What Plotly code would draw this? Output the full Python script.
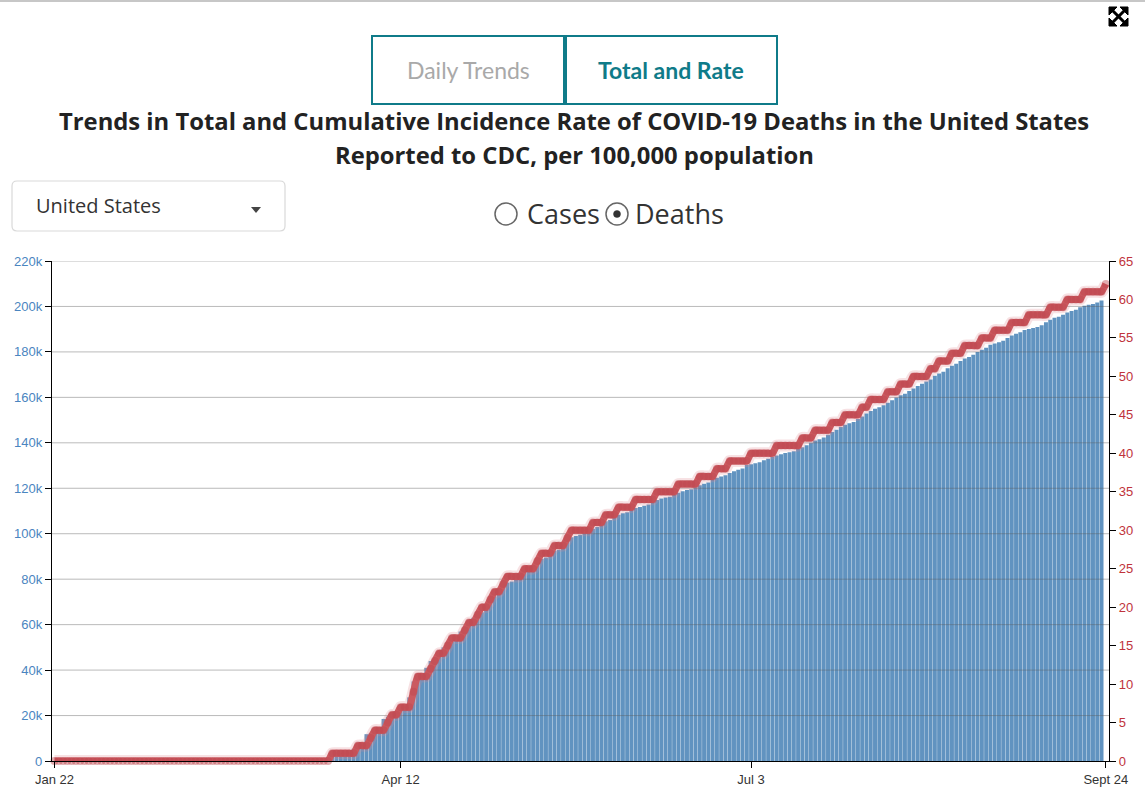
import pandas as pd
import plotly.graph_objects as go

# ---------------- data ----------------
start_date = "2020-01-22"
n_days = 247

deaths_total = (
    [0] * 38 +
    [1, 1, 6, 9, 11, 12, 15, 19, 22, 26, 30, 38, 41, 48, 58, 73, 95, 121, 171, 239,
     309, 374, 509, 689, 957, 1260,
     1700, 2000, 2100, 2200, 2300,
     4800, 5400, 5900, 6300,
     11800, 12300, 12700, 13500,
     18500, 19500, 20500,
     22000, 23000, 23500,
     28000, 35000, 36500, 37500,
     41000, 44000, 45500, 46500,
     50000, 52000, 52500, 53000,
     57000, 58500, 59500,
     63000, 64500, 65500,
     69000, 71500, 72500,
     75000, 77500, 78500, 79000,
     80500, 82000, 83000, 83800,
     86000, 88000, 89000, 89500,
     91500, 92500, 93000,
     95500,
     97500, 98500, 99000, 99500, 100500,
     101500, 102200, 103000,
     104500, 105500, 106000,
     107500, 108300, 109000, 109500,
     110500, 111300, 111800, 112300, 112900,
     114000, 114800, 115500, 115900, 116300,
     117200, 118000, 118700, 119200, 119600,
     120500, 121300, 122000, 122500,
     124000, 124600, 125200, 125700,
     126700, 127500, 128100, 128700,
     130200, 130600, 131000, 131500, 132300, 133000,
     133800, 134400, 135000, 135500, 135900, 136300,
     137300, 138100, 138900,
     140000, 141000, 141600, 142300,
     143600, 144800, 145800,
     147000, 148000, 148600, 149200,
     150500, 151600,
     152900, 154000, 155000, 155600,
     156500, 157600, 158700,
     159900, 160900, 161600,
     162800, 163900, 165000, 166000,
     167000, 167900,
     169500, 170500, 171300,
     172800, 173900, 174800,
     176000, 177100, 177800, 178700,
     180000, 181000, 181800,
     183200, 183700, 184200, 184900,
     186100, 187200, 188000, 188700,
     189600, 190100, 190500, 191000, 191700,
     193000, 194100, 195000, 195500,
     196300, 197300, 198000, 198500,
     199700, 200300, 200700, 201100,
     201700, 202600]
)

rate_per_100k = (
    [0] * 65 +
    [1, 1, 1, 1, 1, 1,
     2, 2, 2,
     3, 4, 4, 4,
     5, 6, 6,
     7, 7, 7,
     9, 11, 11, 11,
     12, 13, 14, 14,
     15, 16, 16, 16,
     17, 18, 18,
     19, 20, 20,
     21, 22, 22,
     23, 24, 24, 24, 24,
     25, 25, 25,
     26, 27, 27, 27,
     28, 28, 28,
     29,
     30, 30, 30, 30, 30,
     31, 31, 31,
     32, 32, 32,
     33, 33, 33, 33,
     34, 34, 34, 34, 34,
     35, 35, 35, 35, 35,
     36, 36, 36, 36, 36,
     37, 37, 37, 37,
     38, 38, 38,
     39, 39, 39, 39, 39,
     40, 40, 40, 40, 40, 40,
     41, 41, 41, 41, 41, 41,
     42, 42, 42,
     43, 43, 43, 43,
     44, 44, 44,
     45, 45, 45, 45,
     46, 46,
     47, 47, 47, 47,
     48, 48, 48,
     49, 49, 49,
     50, 50, 50, 50,
     51, 51,
     52, 52, 52,
     53, 53, 53,
     54, 54, 54, 54,
     55, 55, 55,
     56, 56, 56, 56,
     57, 57, 57, 57,
     58, 58, 58, 58, 58,
     59, 59, 59, 59,
     60, 60, 60, 60,
     61, 61, 61, 61, 61,
     62]
)

dates = pd.date_range(start_date, periods=n_days, freq="D")

x_tick_vals = ["2020-01-22", "2020-04-12", "2020-07-03", "2020-09-24"]
x_tick_text = ["Jan 22", "Apr 12", "Jul 3", "Sept 24"]
left_ticks = [0, 20000, 40000, 60000, 80000, 100000, 120000, 140000, 160000, 180000, 200000, 220000]
right_ticks = [0, 5, 10, 15, 20, 25, 30, 35, 40, 45, 50, 55, 60, 65]

title_line1 = "Trends in Total and Cumulative Incidence Rate of COVID-19 Deaths in the United States"
title_line2 = "Reported to CDC, per 100,000 population"

# ---------------- layout helpers (pixel -> paper) ----------------
W, H = 1145, 787
ML, MR, MT, MB = 52, 36, 261, 26
PW, PH = W - ML - MR, H - MT - MB


def X(px):
    return (px - ML) / PW


def Y(py):
    return (H - MB - py) / PH


BLUE = "#6193c0"
RED = "#cb5a60"
TEAL = "#0f7b89"

x_range = ["2020-01-21 10:00", "2020-09-24 18:00"]

fig = go.Figure()

fig.add_trace(go.Bar(
    x=dates, y=deaths_total, marker=dict(color=BLUE, line=dict(width=0)),
    name="Total deaths", showlegend=False, hoverinfo="x+y",
))

# gridlines drawn above bars (as in the reference)
gx, gy = [], []
for t in left_ticks[1:]:
    gx += [x_range[0], x_range[1], None]
    gy += [t, t, None]
fig.add_trace(go.Scatter(
    x=gx, y=gy, mode="lines", line=dict(color="rgba(90,90,90,0.42)", width=1),
    hoverinfo="skip", showlegend=False,
))

# rate line: halo + core
fig.add_trace(go.Scatter(
    x=dates, y=rate_per_100k, yaxis="y2", mode="lines",
    line=dict(color="rgba(225,135,145,0.25)", width=12, shape="spline", smoothing=0.5),
    hoverinfo="skip", showlegend=False, cliponaxis=False,
))
fig.add_trace(go.Scatter(
    x=dates, y=rate_per_100k, yaxis="y2", mode="lines+markers",
    line=dict(color=RED, width=7, shape="spline", smoothing=0.5),
    marker=dict(size=8, color="rgba(190,72,80,0.45)", line=dict(width=0)),
    name="Rate per 100k", showlegend=False, cliponaxis=False,
))

axis_common = dict(
    showline=True, linecolor="black", linewidth=1.3,
    ticks="outside", ticklen=6, tickcolor="black", tickwidth=1.3,
    showgrid=False, zeroline=False, automargin=False,
)

fig.update_layout(
    template="none",
    width=W, height=H,
    margin=dict(l=ML, r=MR, t=MT, b=MB, pad=0),
    paper_bgcolor="white", plot_bgcolor="white",
    bargap=0.07,
    showlegend=False,
    font=dict(family="Liberation Sans, Arial, sans-serif", size=13, color="#333"),
    xaxis=dict(
        type="date", range=x_range, tickmode="array",
        tickvals=x_tick_vals, ticktext=x_tick_text,
        tickfont=dict(size=13, color="#333"), **axis_common,
    ),
    yaxis=dict(
        range=[0, 220000], tickmode="array", tickvals=left_ticks,
        ticktext=["0"] + [f"{v // 1000}k" for v in left_ticks[1:]],
        tickfont=dict(size=13, color="#4a85c0"), **axis_common,
    ),
    yaxis2=dict(
        range=[0, 65], overlaying="y", side="right", tickmode="array",
        tickvals=right_ticks,
        tickfont=dict(size=13, color="#c0333b"), **axis_common,
    ),
)

shapes = []
# top border line of the page
shapes.append(dict(type="line", xref="paper", yref="paper", x0=X(0), x1=X(W), y0=Y(1), y1=Y(1),
                   line=dict(color="#b5b5b5", width=1.5)))
# tabs
shapes.append(dict(type="rect", xref="paper", yref="paper", x0=X(372), x1=X(564), y0=Y(104), y1=Y(36),
                   line=dict(color=TEAL, width=2)))
shapes.append(dict(type="rect", xref="paper", yref="paper", x0=X(566), x1=X(777), y0=Y(104), y1=Y(36),
                   line=dict(color=TEAL, width=2)))
# dropdown box (rounded)
x0, x1, y0, y1, r = 12, 285, 181, 231, 5
path = (f"M {X(x0 + r)},{Y(y0)} L {X(x1 - r)},{Y(y0)} Q {X(x1)},{Y(y0)} {X(x1)},{Y(y0 + r)} "
        f"L {X(x1)},{Y(y1 - r)} Q {X(x1)},{Y(y1)} {X(x1 - r)},{Y(y1)} "
        f"L {X(x0 + r)},{Y(y1)} Q {X(x0)},{Y(y1)} {X(x0)},{Y(y1 - r)} "
        f"L {X(x0)},{Y(y0 + r)} Q {X(x0)},{Y(y0)} {X(x0 + r)},{Y(y0)} Z")
shapes.append(dict(type="path", xref="paper", yref="paper", path=path,
                   line=dict(color="#d9d9d9", width=1.2)))
# dropdown caret
shapes.append(dict(type="path", xref="paper", yref="paper",
                   path=f"M {X(251)},{Y(207)} L {X(261)},{Y(207)} L {X(256)},{Y(213)} Z",
                   fillcolor="#444", line=dict(width=0)))
# radio buttons
shapes.append(dict(type="circle", xref="paper", yref="paper", x0=X(495), x1=X(517), y0=Y(225), y1=Y(203),
                   line=dict(color="#666", width=1.5)))
shapes.append(dict(type="circle", xref="paper", yref="paper", x0=X(606), x1=X(628), y0=Y(225), y1=Y(203),
                   line=dict(color="#666", width=1.5)))
shapes.append(dict(type="circle", xref="paper", yref="paper", x0=X(613.5), x1=X(620.5), y0=Y(217.5), y1=Y(210.5),
                   fillcolor="#333", line=dict(color="#333", width=0.5)))
# expand icon
cx0, cy0, cx1, cy1 = 1109, 7, 1128, 26
shapes.append(dict(type="line", xref="paper", yref="paper", x0=X(cx0 + 3), y0=Y(cy0 + 3), x1=X(cx1 - 3), y1=Y(cy1 - 3),
                   line=dict(color="black", width=3)))
shapes.append(dict(type="line", xref="paper", yref="paper", x0=X(cx1 - 3), y0=Y(cy0 + 3), x1=X(cx0 + 3), y1=Y(cy1 - 3),
                   line=dict(color="black", width=3)))
a = 8
for (px, py, sx, sy) in [(cx0, cy0, 1, 1), (cx1, cy0, -1, 1), (cx0, cy1, 1, -1), (cx1, cy1, -1, -1)]:
    shapes.append(dict(type="path", xref="paper", yref="paper",
                       path=f"M {X(px)},{Y(py)} L {X(px + sx * a)},{Y(py)} L {X(px)},{Y(py + sy * a)} Z",
                       fillcolor="black", line=dict(color="black", width=1)))
fig.update_layout(shapes=shapes)

ann = []
ann.append(dict(text="Daily Trends", x=X(468), y=Y(70), xref="paper", yref="paper", showarrow=False,
                font=dict(family="Lato", size=23, color="#a9a9a9"), xanchor="center", yanchor="middle"))
ann.append(dict(text="<b>Total and Rate</b>", x=X(671), y=Y(70), xref="paper", yref="paper", showarrow=False,
                font=dict(family="Lato", size=23, color=TEAL), xanchor="center", yanchor="middle"))
ann.append(dict(text=f"<b>{title_line1}</b>", x=X(574), y=Y(121), xref="paper", yref="paper", showarrow=False,
                font=dict(family="Open Sans", size=23.8, color="#222"), xanchor="center", yanchor="middle"))
ann.append(dict(text=f"<b>{title_line2}</b>", x=X(574), y=Y(155), xref="paper", yref="paper", showarrow=False,
                font=dict(family="Open Sans", size=23.8, color="#222"), xanchor="center", yanchor="middle"))
ann.append(dict(text="United States", x=X(34), y=Y(206), xref="paper", yref="paper", showarrow=False,
                font=dict(family="Open Sans", size=20, color="#333"), xanchor="left", yanchor="middle"))
ann.append(dict(text="Cases", x=X(525), y=Y(214), xref="paper", yref="paper", showarrow=False,
                font=dict(family="Open Sans", size=27, color="#333"), xanchor="left", yanchor="middle"))
ann.append(dict(text="Deaths", x=X(633), y=Y(214), xref="paper", yref="paper", showarrow=False,
                font=dict(family="Open Sans", size=27, color="#333"), xanchor="left", yanchor="middle"))
fig.update_layout(annotations=ann)

fig.write_html("out.html", config={"displayModeBar": False},
               post_script="document.body.style.margin='0';")
